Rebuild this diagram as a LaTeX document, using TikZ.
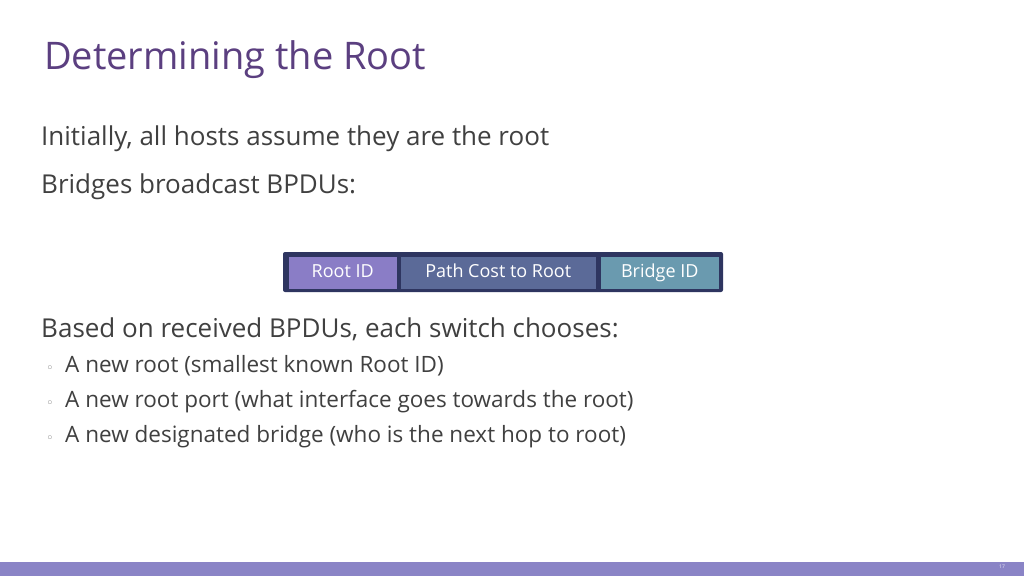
\documentclass[tikz,border=0pt]{standalone}
\usepackage{fontspec}
\setmainfont{Open Sans}
\newfontfamily\dejavu{DejaVu Sans}
\definecolor{titlec}{HTML}{5B3F80}
\definecolor{bodyc}{HTML}{404040}
\definecolor{rootc}{HTML}{8A7DC6}
\definecolor{pathc}{HTML}{5B6A98}
\definecolor{bridgec}{HTML}{6A9AAF}
\definecolor{framec}{HTML}{2E3560}
\definecolor{bandc}{HTML}{8A84C6}
\begin{document}
\begin{tikzpicture}[x=1pt,y=-1pt,
  body/.style={anchor=base west,inner sep=0,text=bodyc,font=\fontsize{26}{30}\selectfont},
  sub/.style={anchor=base west,inner sep=0,text=bodyc,font=\fontsize{22.5}{27}\selectfont},
  bul/.style={anchor=base west,inner sep=0,text=gray,font=\dejavu\fontsize{13}{15}\selectfont},
  field/.style={draw=framec,line width=1.5pt,text=white,font=\fontsize{18}{22}\selectfont,anchor=north west,inner sep=0,minimum height=34pt,text height=13pt,text depth=4pt}]
\useasboundingbox (0,0) rectangle (1024,576);
\fill[white] (0,0) rectangle (1024,576);
\fill[bandc] (0,562) rectangle (1024,576);
\node[anchor=base west,inner sep=0,text=titlec,font=\fontsize{38}{44}\selectfont] (title) at (44,69) {Determining the Root};
\node[body] (l1) at (41,145) {Initially, all hosts assume they are the root};
\node[body] (l2) at (41,193) {Bridges broadcast BPDUs:};
\fill[framec, rounded corners=2pt] (283,252) rectangle (723,292);
\node[field,fill=rootc,minimum width=110pt] (root) at (287,255) {Root ID};
\node[field,fill=pathc,minimum width=197pt] (path) at (399,255) {Path Cost to Root};
\node[field,fill=bridgec,minimum width=120pt] (bridge) at (599,255) {Bridge ID};
\node[body] (l3) at (41,337) {Based on received BPDUs, each switch chooses:};
\node[bul] (b1) at (46,372) {◦};
\node[sub] (s1) at (65,372) {A new root (smallest known Root ID)};
\node[bul] (b2) at (46,407) {◦};
\node[sub] (s2) at (65,407) {A new root port (what interface goes towards the root)};
\node[bul] (b3) at (46,442) {◦};
\node[sub] (s3) at (65,442) {A new designated bridge (who is the next hop to root)};
\node[text=white!85!bandc,font=\fontsize{5}{6}\selectfont,inner sep=0] (pg) at (1002,567) {17};
\end{tikzpicture}
\end{document}
